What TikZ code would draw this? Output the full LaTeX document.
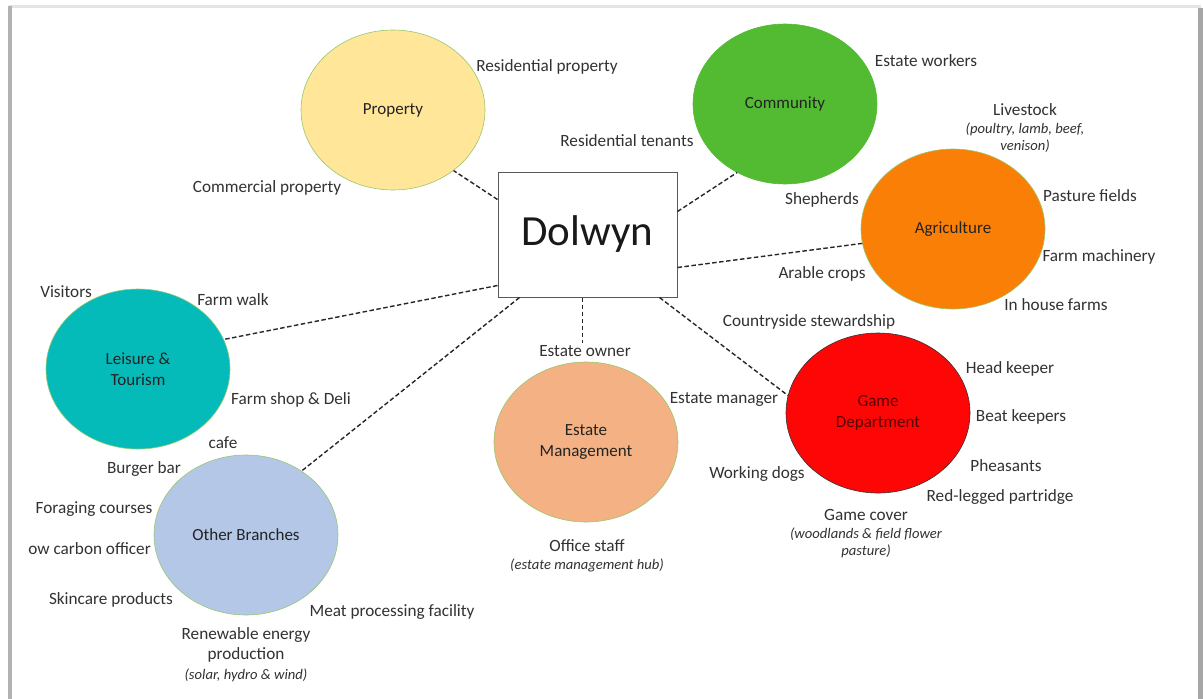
\documentclass[tikz,border=0pt]{standalone}
\usepackage{fontspec}
\setmainfont{Carlito}
\usetikzlibrary{shapes.geometric}
\definecolor{propfill}{RGB}{255,230,153}
\definecolor{commfill}{RGB}{83,187,50}
\definecolor{agrifill}{RGB}{250,127,6}
\definecolor{leisfill}{RGB}{5,187,185}
\definecolor{mgmtfill}{RGB}{244,177,131}
\definecolor{gamefill}{RGB}{255,6,6}
\definecolor{othrfill}{RGB}{180,199,231}
\definecolor{rimgreen}{RGB}{150,200,110}
\definecolor{lbltext}{RGB}{50,50,50}
\definecolor{hubtext}{RGB}{35,35,35}
\definecolor{gametext}{RGB}{90,0,0}
\begin{document}
\begin{tikzpicture}[x=1pt,y=-1pt,
  hub/.style={ellipse, minimum width=184pt, minimum height=160pt, inner sep=0pt,
    draw=rimgreen, line width=0.6pt, align=center, text=hubtext,
    font=\fontsize{17}{21}\selectfont},
  lbl/.style={text=lbltext, font=\fontsize{17.2}{20.5}\selectfont, inner sep=0pt, align=center, yshift=-1.5pt},
  note/.style={text=lbltext, font=\fontsize{14.6}{17}\selectfont\itshape, inner sep=0pt, align=center, yshift=-1pt},
  link/.style={line width=1.4pt, dash pattern=on 4.5pt off 2.5pt, draw=black!85},
]
\useasboundingbox (0,0) rectangle (1203,699);
% page with its shadow edges
\fill[white] (0,0) rectangle (1203,699);
\fill[black!10] (9,5) rectangle (1201,8);
\fill[black!30] (8,6) rectangle (12,699);
\fill[black!35] (1198,8) rectangle (1203,699);

% centre box
\node[draw=black!65, line width=1pt, minimum width=179pt, minimum height=125pt,
  inner sep=0pt, text=black!90, font=\fontsize{43}{50}\selectfont] (dolwyn) at (587.5,234.5) {Dolwyn};

% branch ellipses
\node[hub, fill=propfill] (prop) at (393,110) {Property};
\node[hub, fill=commfill, draw=commfill] (comm) at (785,104) {Community};
\node[hub, fill=agrifill] (agri) at (953,229) {Agriculture};
\node[hub, fill=leisfill] (leis) at (138,369) {Leisure \&\\Tourism};
\node[hub, fill=mgmtfill] (mgmt) at (586,442) {Estate\\Management};
\node[hub, fill=gamefill, draw=black!80, text=gametext] (game) at (878,413) {Game\\Department};
\node[hub, fill=othrfill] (othr) at (246,535) {Other Branches};

% Property
\node[lbl] (resprop) at (547,65) {Residential property};
\node[lbl] (comprop) at (267,186) {Commercial property};
% Community
\node[lbl] (workers) at (926,59) {Estate workers};
\node[lbl] (tenants) at (627,139) {Residential tenants};
% Agriculture
\node[lbl] (livestock) at (1025,108) {Livestock};
\node[note] (livenote) at (1025,136.5) {(poultry, lamb, beef,\\venison)};
\node[lbl] (shepherds) at (822,198) {Shepherds};
\node[lbl] (pasture) at (1090,194) {Pasture fields};
\node[lbl] (machinery) at (1099,255) {Farm machinery};
\node[lbl] (arable) at (822,272) {Arable crops};
\node[lbl] (inhouse) at (1056,303) {In house farms};
% Leisure & Tourism
\node[lbl] (visitors) at (66,290) {Visitors};
\node[lbl] (farmwalk) at (233,298) {Farm walk};
\node[lbl] (farmshop) at (291,398) {Farm shop \& Deli};
% Other Branches
\node[lbl] (cafe) at (223,441) {cafe};
\node[lbl] (burger) at (144,468) {Burger bar};
\node[lbl] (foraging) at (94,508) {Foraging courses};
\begin{scope}
  \clip (28.5,530) rectangle (200,565);
  \node[lbl, anchor=east] (lowcarbon) at (151,547) {Low carbon officer};
\end{scope}
\node[lbl] (skincare) at (111,598) {Skincare products};
\node[lbl] (renewable) at (246,643.5) {Renewable energy\\production};
\node[note] (renewnote) at (246,674) {(solar, hydro \& wind)};
\node[lbl] (meat) at (392,610) {Meat processing facility};
% Estate Management
\node[lbl] (owner) at (585,350) {Estate owner};
\node[lbl] (manager) at (724,398) {Estate manager};
\node[lbl] (office) at (587,544) {Office staff};
\node[note] (officenote) at (587,564) {(estate management hub)};
% Game Department
\node[lbl] (stewardship) at (809,320) {Countryside stewardship};
\node[lbl] (headkeeper) at (1010,367) {Head keeper};
\node[lbl] (beatkeepers) at (1021,415) {Beat keepers};
\node[lbl] (dogs) at (757,473) {Working dogs};
\node[lbl] (pheasants) at (1006,464) {Pheasants};
\node[lbl] (partridge) at (1000,496) {Red-legged partridge};
\node[lbl] (gamecover) at (866,513) {Game cover};
\node[note] (covernote) at (866,541.5) {(woodlands \& field flower\\pasture)};

% dashed links from the centre box
\coordinate (ownerlink) at ([xshift=85pt]dolwyn.south west);
\coordinate (ownerend) at ([yshift=3pt]owner.north);
\draw[link] ([yshift=-28pt]dolwyn.north west) -- (prop.-45);
\draw[link] ([yshift=-40pt]dolwyn.north east) -- (comm.235);
\draw[link] ([yshift=-96pt]dolwyn.north east) -- (agri.189);
\draw[link] ([yshift=12pt]dolwyn.south west) -- (leis.19);
\draw[link] ([xshift=22pt]dolwyn.south west) -- (othr.49);
\draw[link] (ownerlink) -- (ownerlink |- ownerend);
\draw[link] ([xshift=162pt]dolwyn.south west) -- (game.169);
\end{tikzpicture}
\end{document}
